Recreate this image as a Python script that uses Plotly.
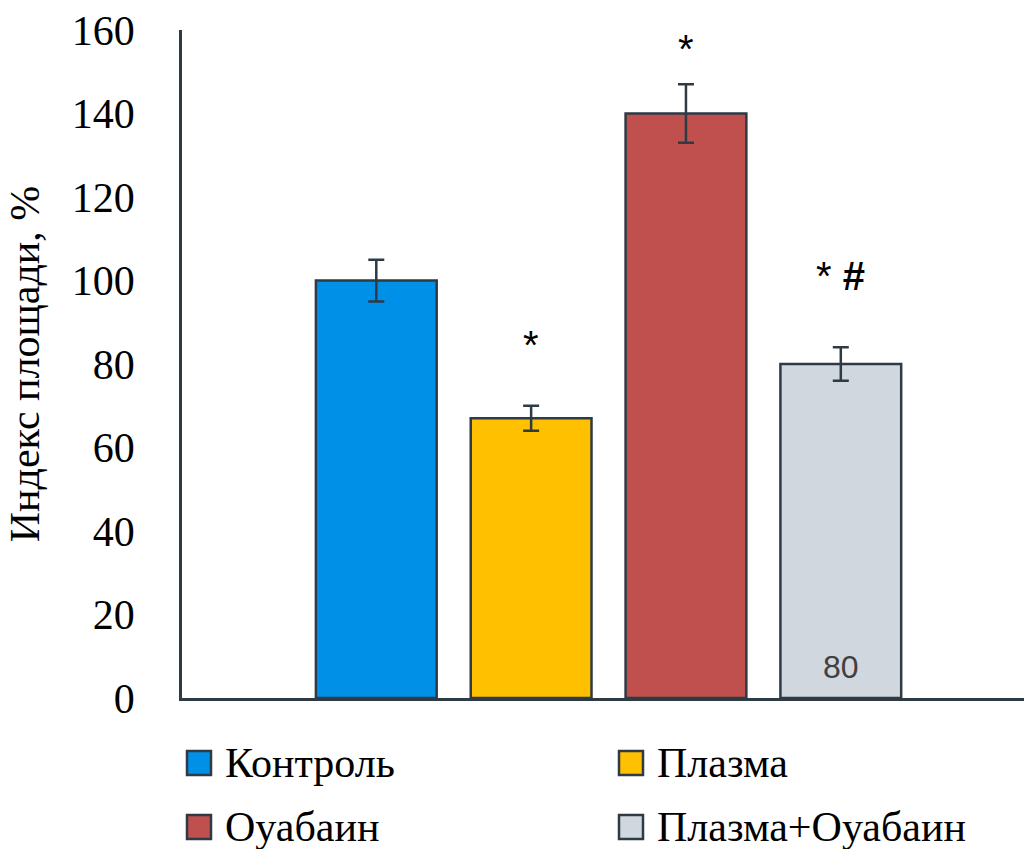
import plotly.graph_objects as go

# Groups, means and standard errors
groups = ["Контроль", "Плазма", "Оуабаин", "Плазма+Оуабаин"]
means = [100, 67, 140, 80]
errors = [5, 3, 7, 4]
colors = ["#0090E8", "#FFC000", "#C0504D", "#D0D7DE"]
marks = ["", "*", "*", "* <b>#</b>"]
mark_pad = [0, 14.5, 8.5, 17]
y_ticks = [0, 20, 40, 60, 80, 100, 120, 140, 160]
value_label_index = 3

OUTLINE = "#2E3A44"
SERIF = "Liberation Serif, Times New Roman, serif"
SANS = "Liberation Sans, Arial, sans-serif"

W, H = 1024, 849
M_L, M_R, M_T, M_B = 182, 0, 30, 151
BARGAP, GROUPGAP = 0.274, 0.22
X_RANGE = [-0.5, 0.487]

fig = go.Figure()
for name, val, err, col in zip(groups, means, errors, colors):
    fig.add_trace(go.Bar(
        x=[0], y=[val], name=name,
        marker=dict(color=col, line=dict(color=OUTLINE, width=2.5)),
        error_y=dict(type="data", array=[err], visible=True,
                     color=OUTLINE, thickness=2.5, width=8),
        showlegend=False,
    ))

# center of each bar within the group
group_w = 1 - BARGAP
slot = group_w / len(groups)
bar_x = [-group_w / 2 + slot * (i + 0.5) for i in range(len(groups))]

annotations = []
for i, (m, v, e, p) in enumerate(zip(marks, means, errors, mark_pad)):
    if m:
        annotations.append(dict(
            x=bar_x[i], y=v + e + p, xref="x", yref="y", text=m,
            showarrow=False, font=dict(family=SANS, size=40, color="black"),
            xanchor="center", yanchor="middle",
        ))

# value label at the base of the last bar
annotations.append(dict(
    x=bar_x[value_label_index], y=0, xref="x", yref="y",
    text=str(means[value_label_index]), showarrow=False,
    font=dict(family=SANS, size=32, color="#404040"),
    xanchor="center", yanchor="bottom", yshift=11,
))

# legend: two columns, two rows
plot_w = W - M_L - M_R
plot_h = H - M_T - M_B


def px_x(px):
    return (px - M_L) / plot_w


def px_y(py):
    return (H - M_B - py) / plot_h


legend_cols = [187, 619]
legend_rows = [763, 827]
shapes = []
for i, (name, col) in enumerate(zip(groups, colors)):
    cx = legend_cols[i % 2]
    cy = legend_rows[i // 2]
    shapes.append(dict(
        type="rect", xref="paper", yref="paper",
        x0=px_x(cx), x1=px_x(cx + 24), y0=px_y(cy + 12), y1=px_y(cy - 12),
        fillcolor=col, line=dict(color=OUTLINE, width=2.5),
    ))
    annotations.append(dict(
        x=px_x(cx + 36), y=px_y(cy), xref="paper", yref="paper",
        text=name, showarrow=False, xanchor="left", yanchor="middle",
        font=dict(family=SERIF, size=42, color="black"),
    ))

fig.update_layout(
    width=W, height=H,
    margin=dict(l=M_L, r=M_R, t=M_T, b=M_B),
    plot_bgcolor="white", paper_bgcolor="white",
    barmode="group", bargap=BARGAP, bargroupgap=GROUPGAP,
    annotations=annotations, shapes=shapes,
    xaxis=dict(range=X_RANGE, showticklabels=False, showgrid=False,
               zeroline=False, showline=True, linecolor=OUTLINE,
               linewidth=3, ticks=""),
    yaxis=dict(range=[0, 160], tickvals=y_ticks, showgrid=False,
               zeroline=False, showline=True, linecolor=OUTLINE,
               linewidth=2.5, ticks="", ticklabelstandoff=36,
               tickfont=dict(family=SERIF, size=42, color="black"),
               title=dict(text="Индекс площади, %", standoff=20,
                          font=dict(family=SERIF, size=42, color="black"))),
)

fig.write_html("out.html")
